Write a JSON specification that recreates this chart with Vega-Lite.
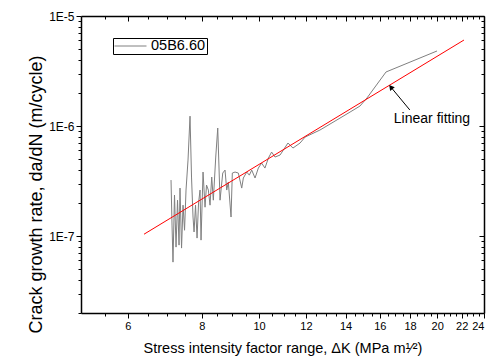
{
  "$schema": "https://vega.github.io/schema/vega-lite/v6.json",
  "width": 403,
  "height": 297,
  "autosize": {"type": "none"},
  "padding": {"left": 81, "top": 16, "right": 5, "bottom": 50},
  "background": "white",
  "config": {"font": "Liberation Sans", "view": {"stroke": null}},
  "datasets": {
    "crack": [
      {"dK": 7.098, "rate": 3.23e-7}, {"dK": 7.126, "rate": 1.26e-7}, {"dK": 7.153, "rate": 5.80e-8},
      {"dK": 7.195, "rate": 2.36e-7}, {"dK": 7.238, "rate": 7.94e-8}, {"dK": 7.280, "rate": 2.12e-7},
      {"dK": 7.323, "rate": 8.28e-8}, {"dK": 7.351, "rate": 2.73e-7}, {"dK": 7.395, "rate": 7.78e-8},
      {"dK": 7.438, "rate": 1.91e-7}, {"dK": 7.482, "rate": 1.13e-7}, {"dK": 7.525, "rate": 2.62e-7},
      {"dK": 7.584, "rate": 4.91e-7}, {"dK": 7.643, "rate": 1.23e-6}, {"dK": 7.688, "rate": 3.44e-7},
      {"dK": 7.733, "rate": 1.49e-7}, {"dK": 7.764, "rate": 1.09e-7}, {"dK": 7.809, "rate": 1.91e-7},
      {"dK": 7.855, "rate": 9.59e-8}, {"dK": 7.901, "rate": 2.00e-7}, {"dK": 7.947, "rate": 2.62e-7},
      {"dK": 7.978, "rate": 9.19e-8}, {"dK": 8.040, "rate": 3.82e-7}, {"dK": 8.103, "rate": 1.83e-7},
      {"dK": 8.150, "rate": 2.91e-7}, {"dK": 8.208, "rate": 2.62e-7}, {"dK": 8.262, "rate": 1.91e-7},
      {"dK": 8.317, "rate": 3.44e-7}, {"dK": 8.369, "rate": 2.12e-7}, {"dK": 8.448, "rate": 5.23e-7},
      {"dK": 8.514, "rate": 9.59e-7}, {"dK": 8.590, "rate": 2.12e-7}, {"dK": 8.681, "rate": 3.74e-7},
      {"dK": 8.759, "rate": 3.98e-7}, {"dK": 8.817, "rate": 2.62e-7}, {"dK": 8.872, "rate": 3.10e-7},
      {"dK": 8.966, "rate": 1.49e-7}, {"dK": 9.011, "rate": 3.74e-7}, {"dK": 9.107, "rate": 3.82e-7},
      {"dK": 9.224, "rate": 3.74e-7}, {"dK": 9.347, "rate": 2.73e-7}, {"dK": 9.406, "rate": 3.37e-7},
      {"dK": 9.531, "rate": 3.82e-7}, {"dK": 9.628, "rate": 3.58e-7}, {"dK": 9.718, "rate": 3.98e-7},
      {"dK": 9.844, "rate": 3.37e-7}, {"dK": 9.971, "rate": 4.15e-7}, {"dK": 10.10, "rate": 4.61e-7},
      {"dK": 10.23, "rate": 4.15e-7}, {"dK": 10.37, "rate": 5.12e-7}, {"dK": 10.50, "rate": 5.80e-7},
      {"dK": 10.64, "rate": 5.23e-7}, {"dK": 10.85, "rate": 5.45e-7}, {"dK": 10.99, "rate": 6.05e-7},
      {"dK": 11.19, "rate": 7.01e-7}, {"dK": 11.41, "rate": 6.31e-7}, {"dK": 11.73, "rate": 7.01e-7},
      {"dK": 11.96, "rate": 7.94e-7}, {"dK": 12.67, "rate": 9.19e-7}, {"dK": 13.44, "rate": 1.11e-6},
      {"dK": 14.25, "rate": 1.34e-6}, {"dK": 14.81, "rate": 1.52e-6}, {"dK": 15.22, "rate": 1.80e-6},
      {"dK": 16.39, "rate": 3.10e-6}, {"dK": 19.99, "rate": 4.81e-6}
    ],
    "fit": [{"dK": 6.39, "rate": 1.04e-7}, {"dK": 22.2, "rate": 6.05e-6}],
    "arrow": [{"dK": 17.98, "rate": 1.40e-6, "dK2": 16.7, "rate2": 2.26e-6}],
    "note": [{"dK": 19.6, "rate": 1.16e-6, "label": "Linear fitting"}]
  },
  "layer": [
    {
      "data": {"name": "crack"},
      "mark": {"type": "line", "strokeWidth": 1, "interpolate": "linear"},
      "encoding": {
        "x": {
          "field": "dK", "type": "quantitative",
          "scale": {"type": "log", "domain": [5, 24], "nice": false},
          "axis": {
            "orient": "bottom",
            "values": [5.5, 6, 6.5, 7, 7.5, 8, 8.5, 9, 9.5, 10, 10.5, 11, 11.5, 12, 12.5, 13, 13.5, 14, 14.5, 15, 15.5, 16, 16.5, 17, 17.5, 18, 18.5, 19, 19.5, 20, 20.5, 21, 21.5, 22, 22.5, 23, 23.5, 24],
            "labelExpr": "datum.value % 2 == 0 ? '' + datum.value : ''",
            "tickSize": {"condition": {"test": "datum.value % 2 == 0", "value": 5}, "value": 3},
            "title": "Stress intensity factor range, ΔK (MPa m¹⁄²)",
            "titleFontSize": 14.5, "titleFontWeight": "normal", "titleColor": "black",
            "labelFontSize": 11, "labelColor": "black", "labelOverlap": false,
            "labelFlush": true, "labelBound": false, "labelPadding": 2, "titlePadding": 10,
            "domainColor": "black", "domainWidth": 1.5, "tickColor": "black", "tickWidth": 1, "grid": false
          }
        },
        "y": {
          "field": "rate", "type": "quantitative",
          "scale": {"type": "log", "domain": [2e-8, 1e-5], "nice": false},
          "axis": {
            "orient": "left",
            "values": [2e-8, 3e-8, 4e-8, 5e-8, 6e-8, 7e-8, 8e-8, 9e-8, 1e-7, 2e-7, 3e-7, 4e-7, 5e-7, 6e-7, 7e-7, 8e-7, 9e-7, 1e-6, 2e-6, 3e-6, 4e-6, 5e-6, 6e-6, 7e-6, 8e-6, 9e-6, 1e-5],
            "labelExpr": "abs(log(datum.value)/LN10 - round(log(datum.value)/LN10)) < 0.001 ? '1E' + round(log(datum.value)/LN10) : ''",
            "tickSize": {"condition": {"test": "abs(log(datum.value)/LN10 - round(log(datum.value)/LN10)) < 0.001", "value": 5}, "value": 3},
            "title": "Crack growth rate, da/dN (m/cycle)",
            "titleFontSize": 18, "titleFontWeight": "normal", "titleColor": "black",
            "titleY": 178,
            "labelFontSize": 12, "labelColor": "black", "labelOverlap": false,
            "labelFlush": false, "labelBound": false, "labelPadding": 2, "titlePadding": 3,
            "domainColor": "black", "domainWidth": 1.5, "tickColor": "black", "tickWidth": 1, "grid": false
          }
        },
        "color": {
          "datum": "05B6.60", "type": "nominal",
          "scale": {"range": ["#808080"]},
          "legend": {
            "orient": "none", "legendX": 32, "legendY": 22, "title": null,
            "symbolType": "stroke", "symbolSize": 1024, "symbolStrokeWidth": 1,
            "labelFontSize": 14.5, "labelColor": "black", "labelOffset": 4,
            "clipHeight": 14,
            "strokeColor": "black", "padding": 1
          }
        }
      }
    },
    {
      "data": {"name": "fit"},
      "mark": {"type": "line", "color": "#ff0000", "strokeWidth": 1},
      "encoding": {
        "x": {
          "field": "dK", "type": "quantitative",
          "scale": {"type": "log", "domain": [5, 24], "nice": false},
          "axis": {
            "orient": "top",
            "values": [5.5, 6, 6.5, 7, 7.5, 8, 8.5, 9, 9.5, 10, 10.5, 11, 11.5, 12, 12.5, 13, 13.5, 14, 14.5, 15, 15.5, 16, 16.5, 17, 17.5, 18, 18.5, 19, 19.5, 20, 20.5, 21, 21.5, 22, 22.5, 23, 23.5, 24],
            "labels": false, "title": null,
            "tickSize": {"condition": {"test": "datum.value % 2 == 0", "value": -5}, "value": -3},
            "domainColor": "black", "domainWidth": 1.5, "tickColor": "black", "tickWidth": 1, "grid": false
          }
        },
        "y": {
          "field": "rate", "type": "quantitative",
          "scale": {"type": "log", "domain": [2e-8, 1e-5], "nice": false},
          "axis": {
            "orient": "right",
            "values": [2e-8, 3e-8, 4e-8, 5e-8, 6e-8, 7e-8, 8e-8, 9e-8, 1e-7, 2e-7, 3e-7, 4e-7, 5e-7, 6e-7, 7e-7, 8e-7, 9e-7, 1e-6, 2e-6, 3e-6, 4e-6, 5e-6, 6e-6, 7e-6, 8e-6, 9e-6, 1e-5],
            "labels": false, "title": null,
            "tickSize": {"condition": {"test": "abs(log(datum.value)/LN10 - round(log(datum.value)/LN10)) < 0.001", "value": -5}, "value": -3},
            "domainColor": "black", "domainWidth": 1.5, "tickColor": "black", "tickWidth": 1, "grid": false
          }
        }
      }
    },
    {
      "data": {"name": "arrow"},
      "mark": {"type": "rule", "color": "black", "strokeWidth": 1},
      "encoding": {
        "x": {"field": "dK", "type": "quantitative", "scale": {"type": "log", "domain": [5, 24], "nice": false}, "axis": null},
        "y": {"field": "rate", "type": "quantitative", "scale": {"type": "log", "domain": [2e-8, 1e-5], "nice": false}, "axis": null},
        "x2": {"field": "dK2"},
        "y2": {"field": "rate2"}
      }
    },
    {
      "data": {"name": "arrow"},
      "mark": {"type": "point", "shape": "triangle-up", "filled": true, "color": "black", "size": 35, "angle": 321, "opacity": 1},
      "encoding": {
        "x": {"field": "dK2", "type": "quantitative", "scale": {"type": "log", "domain": [5, 24], "nice": false}, "axis": null},
        "y": {"field": "rate2", "type": "quantitative", "scale": {"type": "log", "domain": [2e-8, 1e-5], "nice": false}, "axis": null}
      }
    },
    {
      "data": {"name": "note"},
      "mark": {"type": "text", "fontSize": 14, "color": "black", "align": "center", "baseline": "middle"},
      "encoding": {
        "x": {"field": "dK", "type": "quantitative", "scale": {"type": "log", "domain": [5, 24], "nice": false}, "axis": null},
        "y": {"field": "rate", "type": "quantitative", "scale": {"type": "log", "domain": [2e-8, 1e-5], "nice": false}, "axis": null},
        "text": {"field": "label"}
      }
    }
  ],
  "resolve": {"axis": {"x": "independent", "y": "independent"}}
}
